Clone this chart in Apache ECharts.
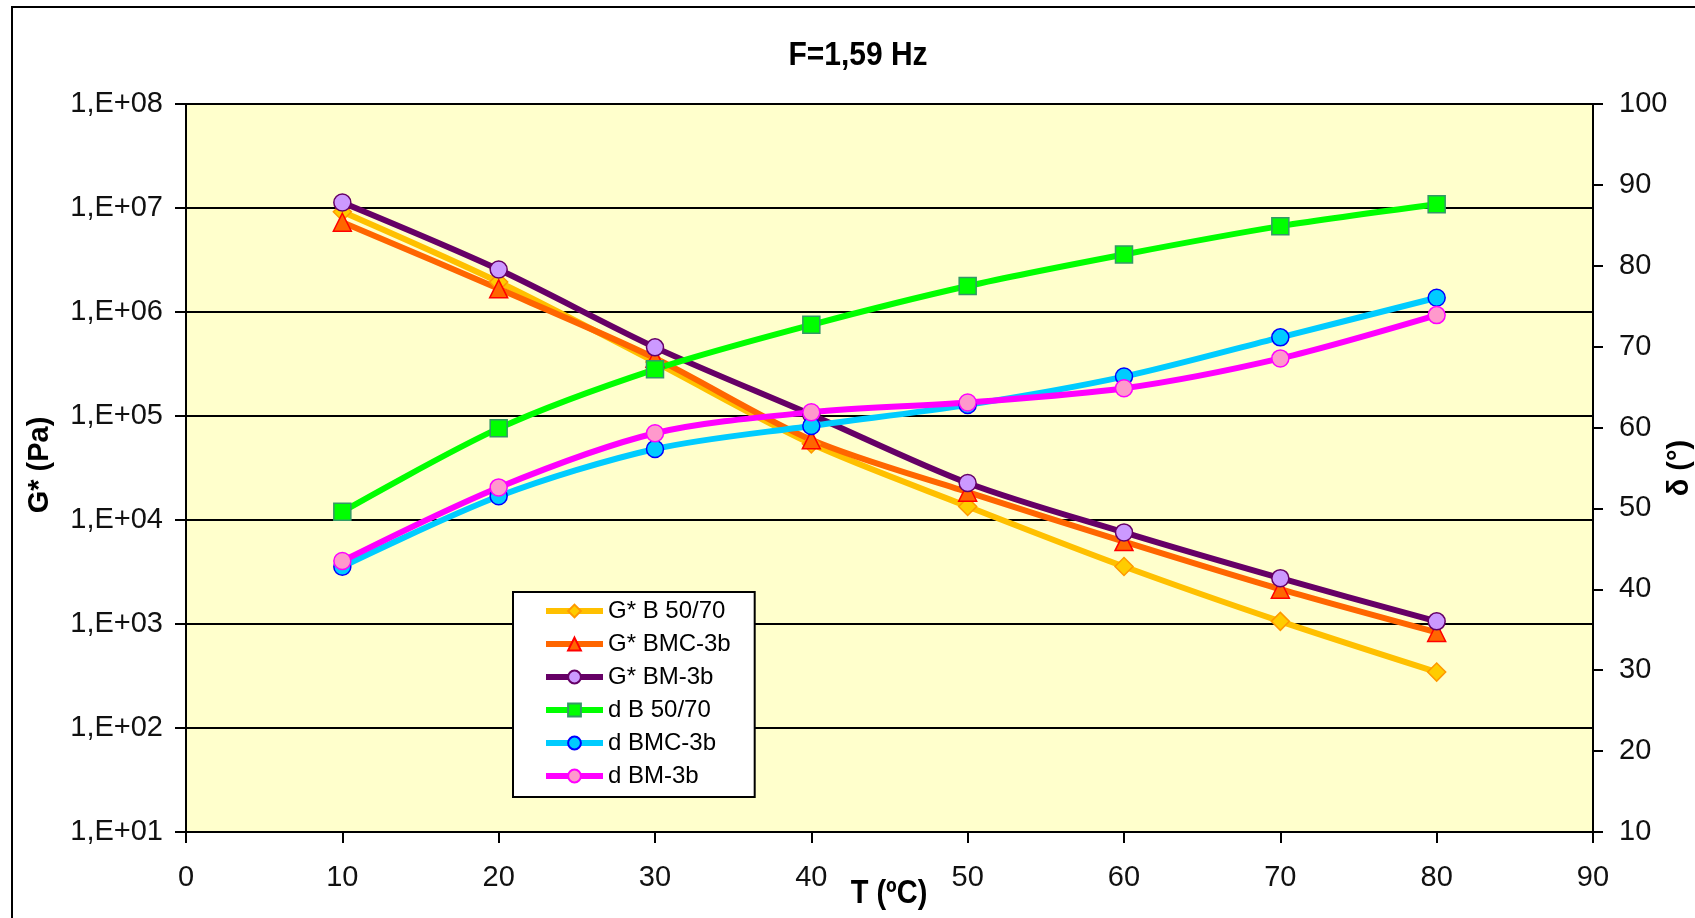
<!DOCTYPE html>
<html>
<head>
<meta charset="utf-8">
<script src="https://cdn.jsdelivr.net/npm/echarts@6/dist/echarts.min.js"></script>
<style>
html,body{margin:0;padding:0;background:#fff;}
#chart{width:1695px;height:918px;}
</style>
</head>
<body>
<div id="chart"></div>
<script>
// ---- data ----
const temps = [10, 20, 30, 40, 50, 60, 70, 80];
const gB5070 = [9.2e6, 1.94e6, 3.3e5, 5.4e4, 1.35e4, 3.57e3, 1.06e3, 345];
const gBMC3b = [7.3e6, 1.67e6, 3.6e5, 5.9e4, 1.85e4, 6.2e3, 2.16e3, 830];
const gBM3b = [1.13e7, 2.56e6, 4.57e5, 1.03e5, 2.27e4, 7.6e3, 2.76e3, 1.06e3];
const dB5070 = [49.6, 59.9, 67.2, 72.7, 77.5, 81.4, 84.9, 87.6];
const dBMC3b = [42.8, 51.5, 57.35, 60.2, 62.8, 66.3, 71.15, 76.05];
const dBM3b = [43.5, 52.6, 59.3, 61.9, 63.1, 64.85, 68.55, 73.9];
const seriesNames = ['G* B 50/70', 'G* BMC-3b', 'G* BM-3b', 'd B 50/70', 'd BMC-3b', 'd BM-3b'];
const titleText = 'F=1,59 Hz';
const xName = 'T (ºC)';
const yLeftName = 'G* (Pa)';
const yRightName = 'δ (°)';

const FONT = "'Liberation Sans', Arial, sans-serif";
const pairs = (ys) => temps.map((t, i) => [t, ys[i]]);

function mk(name, ys, yIdx, lineColor, symbol, size, fill, border) {
  return {
    name: name,
    type: 'line',
    yAxisIndex: yIdx,
    data: pairs(ys),
    smooth: 0.3,
    symbol: symbol,
    symbolSize: size,
    showAllSymbol: true,
    lineStyle: { color: lineColor, width: 6 },
    itemStyle: { color: fill, borderColor: border, borderWidth: 1.5 },
    emphasis: { disabled: true },
    animation: false
  };
}

const chart = echarts.init(document.getElementById('chart'), null, { renderer: 'canvas' });
const option = {
  backgroundColor: '#ffffff',
  animation: false,
  textStyle: { fontFamily: FONT },
  grid: {
    left: 186, right: 102, top: 104, bottom: 86,
    show: true, backgroundColor: '#FFFFCC', borderColor: '#8c8c8c', borderWidth: 1
  },
  legend: {
    orient: 'vertical',
    left: 513, top: 592,
    backgroundColor: '#ffffff',
    borderColor: '#000000', borderWidth: 2,
    padding: [7, 24, 9, 30],
    itemWidth: 57, itemHeight: 16, itemGap: 9,
    lineStyle: { width: 6 },
    textStyle: { fontFamily: FONT, fontSize: 24, color: '#000' },
    data: seriesNames
  },
  xAxis: {
    type: 'value', min: 0, max: 90, interval: 10,
    axisLine: { show: true, onZero: false, lineStyle: { color: '#000', width: 2 } },
    axisTick: { show: true, length: 11, lineStyle: { color: '#000', width: 2 } },
    axisLabel: { fontSize: 29, color: '#111', margin: 31, fontFamily: FONT },
    splitLine: { show: false }
  },
  yAxis: [
    {
      type: 'log', logBase: 10, min: 10, max: 1e8, interval: 1, splitNumber: 7,
      position: 'left',
      axisLine: { show: true, lineStyle: { color: '#000', width: 2 } },
      axisTick: { show: true, length: 11, lineStyle: { color: '#000', width: 2 } },
      axisLabel: {
        fontSize: 29, color: '#111', margin: 23, fontFamily: FONT,
        formatter: function (v) {
          const e = Math.round(Math.log10(v));
          return '1,E+' + (e < 10 ? '0' + e : e);
        }
      },
      splitLine: { show: true, lineStyle: { color: '#000', width: 2 } }
    },
    {
      type: 'value', min: 10, max: 100, interval: 10,
      position: 'right',
      axisLine: { show: true, lineStyle: { color: '#000', width: 2 } },
      axisTick: { show: true, length: 10, lineStyle: { color: '#000', width: 2 } },
      axisLabel: { fontSize: 29, color: '#111', margin: 26, fontFamily: FONT },
      splitLine: { show: false }
    }
  ],
  series: [
    mk(seriesNames[0], gB5070, 0, '#FFC000', 'diamond', 18, '#FFCC00', '#FF9900'),
    mk(seriesNames[1], gBMC3b, 0, '#FF6600', 'triangle', 18, '#FF6600', '#FF0000'),
    mk(seriesNames[2], gBM3b, 0, '#660066', 'circle', 17, '#CC99FF', '#660066'),
    mk(seriesNames[3], dB5070, 1, '#00FF00', 'rect', 17, '#00FF00', '#339966'),
    mk(seriesNames[4], dBMC3b, 1, '#00CCFF', 'circle', 17, '#00CCFF', '#0000FF'),
    mk(seriesNames[5], dBM3b, 1, '#FF00FF', 'circle', 17, '#FF99CC', '#FF00FF')
  ],
  graphic: [
    {
      type: 'rect', z: -10, silent: true,
      shape: { x: 12, y: 7, width: 1720, height: 940 },
      style: { fill: 'none', stroke: '#000', lineWidth: 2 }
    },
    {
      type: 'text', x: 858, y: 56, scaleY: 1.12, silent: true,
      style: { text: titleText, font: 'bold 30px ' + FONT, fill: '#000', align: 'center', verticalAlign: 'middle' }
    },
    {
      type: 'text', x: 889, y: 894, scaleY: 1.12, silent: true,
      style: { text: xName, font: 'bold 29px ' + FONT, fill: '#000', align: 'center', verticalAlign: 'middle' }
    },
    {
      type: 'text', x: 40, y: 465, rotation: Math.PI / 2, silent: true,
      style: { text: yLeftName, font: 'bold 29px ' + FONT, fill: '#000', align: 'center', verticalAlign: 'middle' }
    },
    {
      type: 'text', x: 1680, y: 468, rotation: Math.PI / 2, silent: true,
      style: { text: yRightName, font: 'bold 29px ' + FONT, fill: '#000', align: 'center', verticalAlign: 'middle' }
    }
  ]
};
chart.setOption(option);
</script>
</body>
</html>
